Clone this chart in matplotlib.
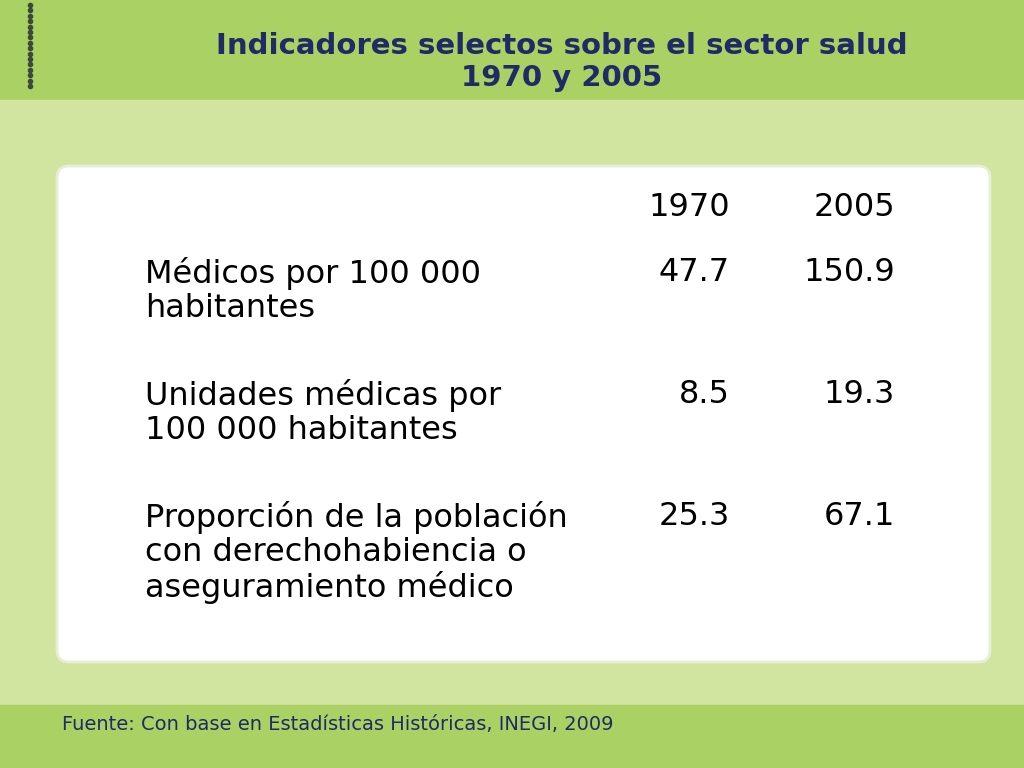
import matplotlib.pyplot as plt
from matplotlib.patches import FancyBboxPatch, Rectangle

title = "Indicadores selectos sobre el sector salud\n1970 y 2005"
years = ["1970", "2005"]
indicators = [
    "Médicos por 100 000\nhabitantes",
    "Unidades médicas por\n100 000 habitantes",
    "Proporción de la población\ncon derechohabiencia o\naseguramiento médico",
]
values_1970 = [47.7, 8.5, 25.3]
values_2005 = [150.9, 19.3, 67.1]
source = "Fuente: Con base en Estadísticas Históricas, INEGI, 2009"

navy = "#1f2a66"
fig = plt.figure(figsize=(10.24, 7.68), dpi=100)
ax = fig.add_axes([0, 0, 1, 1])
ax.set_xlim(0, 1024)
ax.set_ylim(768, 0)
ax.axis("off")

ax.add_patch(Rectangle((0, 0), 1024, 100, color="#a9d163"))
ax.add_patch(Rectangle((0, 100), 1024, 605, color="#d2e5a0"))
ax.add_patch(Rectangle((0, 705), 1024, 63, color="#a9d163"))
ax.add_patch(FancyBboxPatch((57, 166), 933, 496, boxstyle="round,pad=0,rounding_size=12",
                            facecolor="white", edgecolor="#e6eed8", linewidth=2))
ax.plot([30] * 16, [5 + i * 5.4 for i in range(16)], ls="none", marker="o",
        ms=3, color="#3a4a3a")

ax.text(562, 62, title, ha="center", va="center", fontsize=21, fontweight="bold",
        color=navy, linespacing=1.15)

body = dict(fontsize=23, color="black", va="top", linespacing=1.12)
ax.text(730, 192, years[0], ha="right", **body)
ax.text(895, 192, years[1], ha="right", **body)
row_y = [257, 379, 501]
for y, name, a, b in zip(row_y, indicators, values_1970, values_2005):
    ax.text(145, y, name, ha="left", **body)
    ax.text(730, y, f"{a:.1f}", ha="right", **body)
    ax.text(895, y, f"{b:.1f}", ha="right", **body)

ax.text(62, 725, source, ha="left", va="center", fontsize=14, color=navy)
fig.savefig("out.png", dpi=100)
